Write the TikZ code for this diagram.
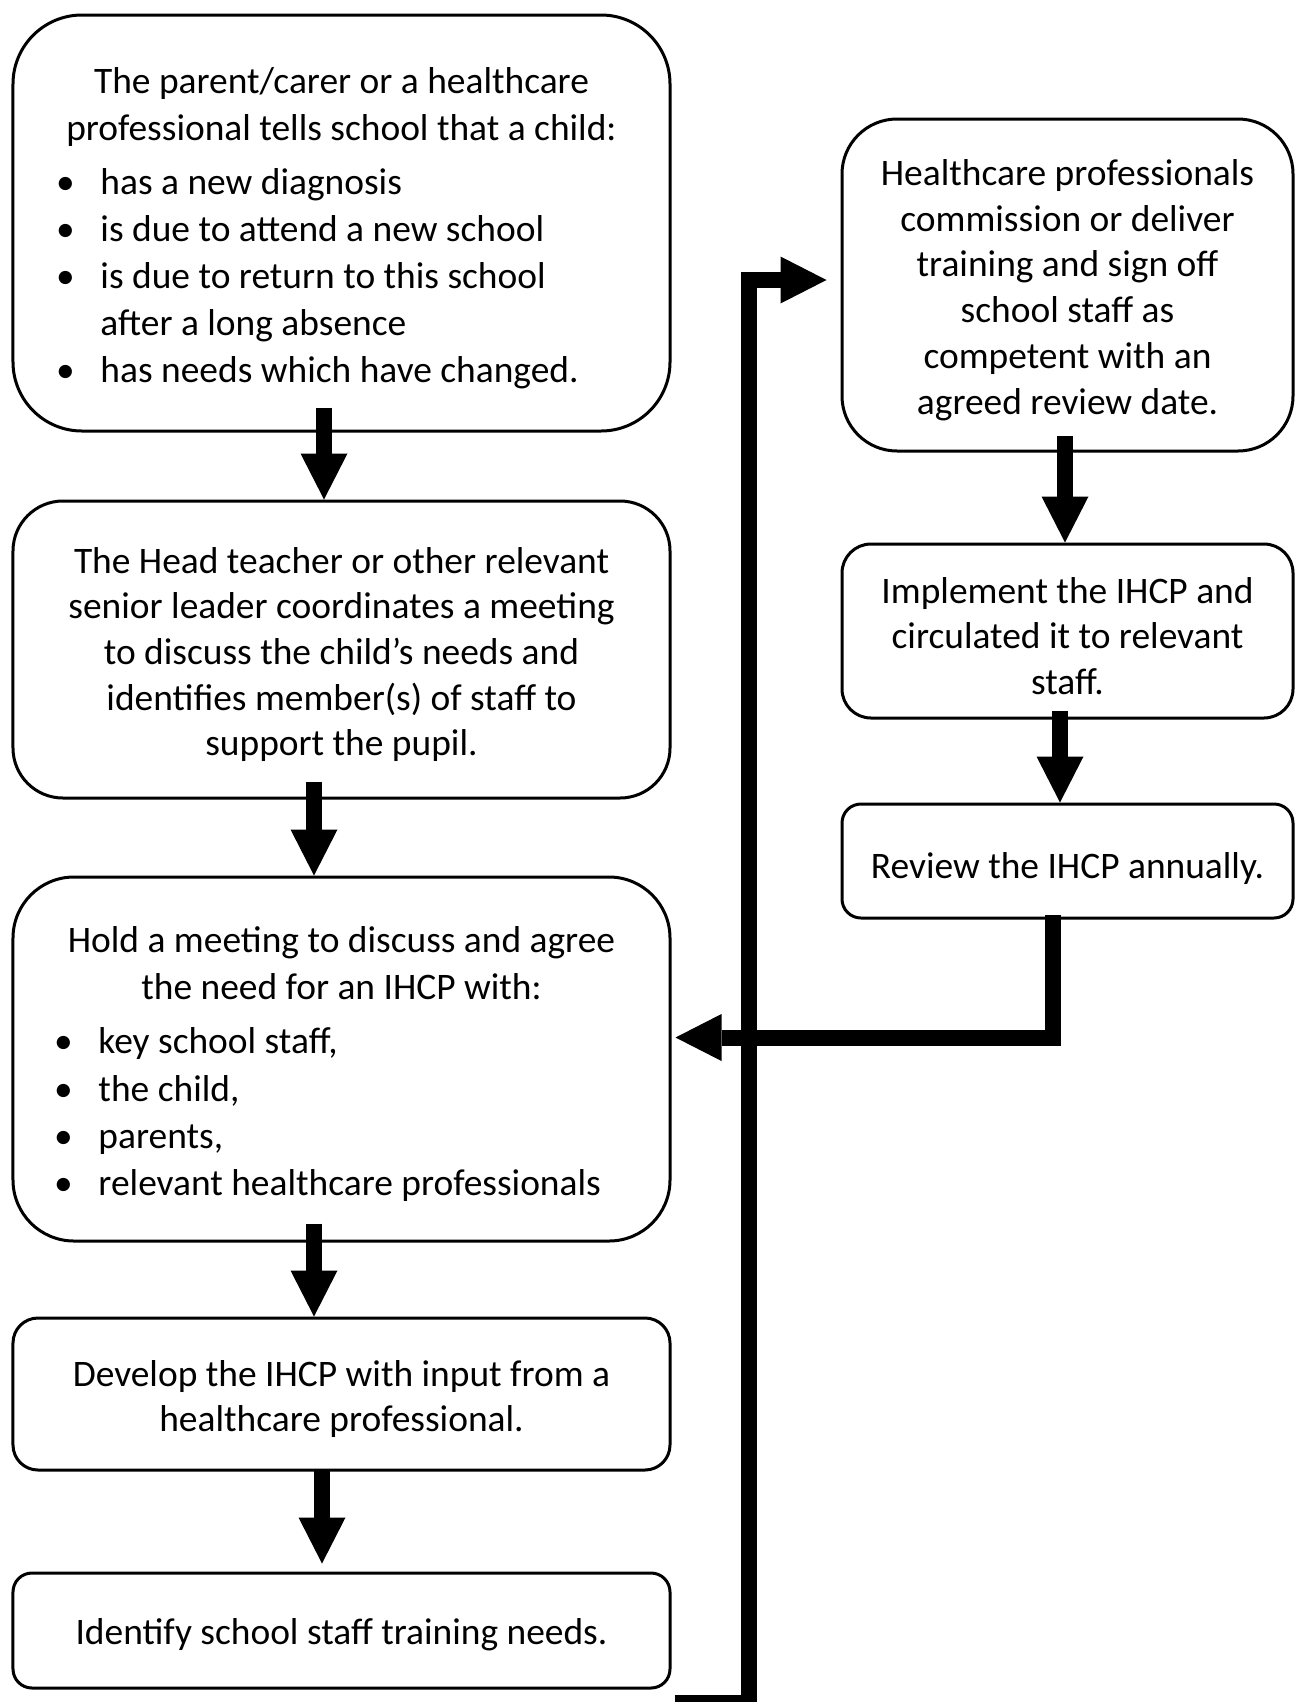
\documentclass[tikz,border=0pt]{standalone}
\usepackage{fontspec}
\setmainfont{Carlito}
\usepackage{tikz}
\usetikzlibrary{arrows.meta}

\newcommand{\bul}[2][10.5mm]{\makebox[131.4mm][l]{\hspace{#1}\makebox[0pt]{\textbullet}\hspace{7mm}#2}}
\newcommand{\cont}[1]{\makebox[131.4mm][l]{\hspace{17.5mm}#1}}
\newcommand{\lift}{\rule{0pt}{7.2mm}}

\begin{document}
\begin{tikzpicture}[>={Triangle[length=9.2mm,width=9.4mm,line width=0pt]},x=0.2mm,y=-0.2mm]

  \tikzstyle{stage}=[rectangle,draw,line width=0.6mm,inner sep=0pt,
    align=center,font=\fontsize{21.3pt}{26pt}\selectfont]
  \tikzstyle{loose}=[font=\fontsize{21.3pt}{26.8pt}\selectfont]
  \tikzstyle{wide}=[stage,minimum width=131.4mm]
  \tikzstyle{narrow}=[stage,minimum width=90.2mm]
  \tikzstyle{flow}=[->,line width=3.2mm]

  \useasboundingbox (0,0) rectangle (1296,1702);

  \node  (tell)    at (341.5,223)    [wide,loose,minimum height=83.2mm,rounded corners=13.8mm]
         {\lift The parent/carer or a healthcare\\
          professional tells school that a child:\\[1.4mm]
          \bul{has a new diagnosis}\\
          \bul{is due to attend a new school}\\
          \bul{is due to return to this school}\\
          \cont{after a long absence}\\
          \bul{has needs which have changed.}};

  \node  (head)    at (341.5,649.5)  [wide,minimum height=59.4mm,rounded corners=10mm]
         {\lift The Head teacher or other relevant\\
          senior leader coordinates a meeting\\
          to discuss the child’s needs and\\
          identifies member(s) of staff to\\
          support the pupil.};

  \node  (meet)    at (341.5,1059)   [wide,loose,minimum height=72.8mm,rounded corners=12.2mm]
         {\lift Hold a meeting to discuss and agree\\
          the need for an IHCP with:\\[1.4mm]
          \bul[10.1mm]{key school staff,}\\
          \bul[10.1mm]{the child,}\\
          \bul[10.1mm]{parents,}\\
          \bul[10.1mm]{relevant healthcare professionals}};

  \node  (develop) at (341.5,1394)   [wide,minimum height=30.4mm,rounded corners=5mm]
         {\lift Develop the IHCP with input from a\\
          healthcare professional.};

  \node  (needs)   at (341.5,1630.5) [wide,minimum height=23mm,rounded corners=3.8mm,
                                      execute at begin node={\rule{0pt}{6.8mm}}]
         {Identify school staff training needs.};

  \node  (train)   at (1067.5,285)   [narrow,minimum height=66.4mm,rounded corners=11mm]
         {\lift Healthcare professionals\\
          commission or deliver\\
          training and sign off\\
          school staff as\\
          competent with an\\
          agreed review date.};

  \node  (impl)    at (1067.5,631)   [narrow,minimum height=34.8mm,rounded corners=5.8mm]
         {\lift Implement the IHCP and\\
          circulated it to relevant\\
          staff.};

  \node  (review)  at (1067.5,861)   [narrow,minimum height=22.8mm,rounded corners=3.8mm,
                                      execute at begin node={\rule{0pt}{8.3mm}}]
         {Review the IHCP annually.};

  \draw [flow] ([xshift=-3.5mm,yshift=5mm]tell.south)    -- ([xshift=-3.5mm]head.north);
  \draw [flow] ([xshift=-5.5mm,yshift=3.6mm]head.south)  -- ([xshift=-5.5mm]meet.north);
  \draw [flow] ([xshift=-5.5mm,yshift=3.8mm]meet.south)  -- ([xshift=-5.5mm]develop.north);
  \draw [flow] ([xshift=-3.9mm,yshift=0.6mm]develop.south) -- ([xshift=-3.9mm,yshift=1.6mm]needs.north);

  \draw [flow] ([xshift=-0.5mm,yshift=3.4mm]train.south) -- ([xshift=-0.5mm]impl.north);
  \draw [flow] ([xshift=-1.5mm,yshift=1.8mm]impl.south)  -- ([xshift=-1.5mm]review.north);

  \draw [flow] ([xshift=-2.9mm,yshift=1mm]review.south)
               |- ([xshift=0.8mm,yshift=4.3mm]meet.east);
  \draw [flow] ([xshift=0.6mm,yshift=-2.6mm]needs.south east)
               -| ([xshift=-18.4mm,yshift=1mm]train.west)
               -- ([xshift=-2.8mm,yshift=1mm]train.west);
\end{tikzpicture}
\end{document}
